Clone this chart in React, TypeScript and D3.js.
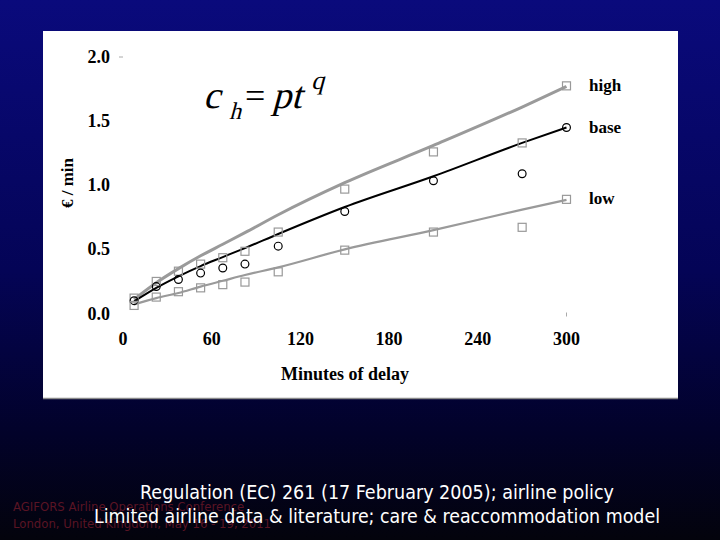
import React from "react";
import * as d3 from "d3";

// ---- data ----
const minutes = [7.5, 22.5, 37.5, 52.5, 67.5, 82.5, 105, 150, 210, 270, 300];
const highObs = [0.12, 0.25, 0.33, 0.385, 0.435, 0.485, 0.635, 0.97, 1.26, 1.33, 1.775];
const baseObs = [0.10, 0.21, 0.265, 0.315, 0.355, 0.385, 0.525, 0.795, 1.035, 1.09, 1.45];
const lowObs = [0.063, 0.128, 0.17, 0.2, 0.225, 0.245, 0.325, 0.494, 0.635, 0.672, 0.89];
const highFit = [0.11, 0.24, 0.35, 0.45, 0.54, 0.63, 0.77, 1.02, 1.31, 1.61, 1.77];
const baseFit = [0.095, 0.2, 0.29, 0.37, 0.44, 0.51, 0.62, 0.83, 1.07, 1.33, 1.45];
const lowFit = [0.07, 0.12, 0.16, 0.21, 0.255, 0.3, 0.36, 0.5, 0.65, 0.81, 0.886];
const seriesNames = ["high", "base", "low"];
const xTicks = [0, 60, 120, 180, 240, 300];
const yTicks = [0, 0.5, 1.0, 1.5, 2.0];
const xTitle = "Minutes of delay";
const yTitle = "€ / min";
const footer1 = "Regulation (EC) 261 (17 February 2005); airline policy";
const footer2 = "Limited airline data & literature; care & reaccommodation model";
const conf1 = "AGIFORS Airline Operations Conference";
const conf2 = "London, United Kingdom, May 16 - 19, 2011";

export default function App() {
  const x = d3.scaleLinear().domain([0, 300]).range([123, 566.5]);
  const y = d3.scaleLinear().domain([0, 2]).range([313.5, 57]);
  const line = d3
    .line<[number, number]>()
    .x((d) => x(d[0]))
    .y((d) => y(d[1]))
    .curve(d3.curveMonotoneX);

  const fits = [highFit, baseFit, lowFit];
  const obs = [highObs, baseObs, lowObs];
  const lineStyle = [
    { stroke: "#9a9a9a", width: 3 },
    { stroke: "#000", width: 2 },
    { stroke: "#9a9a9a", width: 2.2 },
  ];
  const serif = "'Liberation Serif', 'Times New Roman', serif";
  const sans = "Tahoma, 'DejaVu Sans Condensed', 'Liberation Sans', sans-serif";

  return (
    <svg
      width={720}
      height={540}
      style={{ position: "absolute", left: 0, top: 0, display: "block" }}
    >
      <defs>
        <linearGradient id="bg" x1="0" y1="0" x2="0" y2="1">
          <stop offset="0" stopColor="#0a0a7c" />
          <stop offset="0.5" stopColor="#040456" />
          <stop offset="0.8" stopColor="#02022a" />
          <stop offset="1" stopColor="#03030c" />
        </linearGradient>
      </defs>
      <rect x={0} y={0} width={720} height={540} fill="url(#bg)" />
      <rect x={43} y={31} width={635} height={367} fill="#fff" />
      <line x1={43} x2={678} y1={398.5} y2={398.5} stroke="#8a8a8a" strokeWidth={1.5} />

      {/* stray axis marks */}
      <line x1={119} x2={123} y1={y(2)} y2={y(2)} stroke="#aaa" strokeWidth={1} />
      <line x1={x(300)} x2={x(300)} y1={y(0) - 1} y2={y(0) + 3} stroke="#aaa" strokeWidth={1} />

      {/* y tick labels */}
      {yTicks.map((v) => (
        <text
          key={v}
          x={110}
          y={y(v) + 6}
          textAnchor="end"
          fontFamily={serif}
          fontWeight="bold"
          fontSize={18}
          fill="#000"
        >
          {v.toFixed(1)}
        </text>
      ))}
      {/* x tick labels */}
      {xTicks.map((v) => (
        <text
          key={v}
          x={x(v)}
          y={345}
          textAnchor="middle"
          fontFamily={serif}
          fontWeight="bold"
          fontSize={18}
          fill="#000"
        >
          {v}
        </text>
      ))}
      <text
        x={345}
        y={380}
        textAnchor="middle"
        fontFamily={serif}
        fontWeight="bold"
        fontSize={18}
        fill="#000"
      >
        {xTitle}
      </text>
      <text
        transform={`translate(73,183) rotate(-90)`}
        textAnchor="middle"
        fontFamily={serif}
        fontWeight="bold"
        fontSize={17}
        fill="#000"
      >
        {yTitle}
      </text>

      {/* formula (serif, slanted) */}
      <g fontFamily={serif} fill="#000">
        <g transform="translate(203,108) skewX(-15)">
          <text x={0} y={0} fontSize={38}>c</text>
        </g>
        <g transform="translate(229,119) skewX(-15)">
          <text x={0} y={0} fontSize={24}>h</text>
        </g>
        <text x={245} y={108} fontSize={36}>=</text>
        <g transform="translate(272,108) skewX(-15)">
          <text x={0} y={0} fontSize={38}>pt</text>
        </g>
        <g transform="translate(311,89) skewX(-15)">
          <text x={0} y={0} fontSize={26}>q</text>
        </g>
      </g>

      {/* fitted lines */}
      {fits.map((f, i) => (
        <path
          key={i}
          d={line(minutes.map((t, j) => [t, f[j]]) as [number, number][]) || ""}
          fill="none"
          stroke={lineStyle[i].stroke}
          strokeWidth={lineStyle[i].width}
        />
      ))}

      {/* observed markers */}
      {obs.map((o, i) =>
        o.map((v, j) =>
          i === 1 ? (
            <circle
              key={`${i}-${j}`}
              cx={x(minutes[j])}
              cy={y(v)}
              r={3.9}
              fill="none"
              stroke="#000"
              strokeWidth={1.2}
            />
          ) : (
            <rect
              key={`${i}-${j}`}
              x={x(minutes[j]) - 4}
              y={y(v) - 4}
              width={8}
              height={8}
              fill="none"
              stroke="#999"
              strokeWidth={1.2}
            />
          )
        )
      )}

      {/* series labels */}
      {seriesNames.map((n, i) => (
        <text
          key={n}
          x={589}
          y={y(obs[i][obs[i].length - 1]) + 5}
          fontFamily={serif}
          fontWeight="bold"
          fontSize={17}
          fill="#000"
        >
          {n}
        </text>
      ))}

      {/* conference footer */}
      <text x={13} y={511} fontFamily={sans} fontSize={13} fill="#5a1424">
        {conf1}
      </text>
      <text x={13} y={528} fontFamily={sans} fontSize={13} fill="#5a1424">
        {conf2}
      </text>

      {/* white captions */}
      <text
        x={377}
        y={499}
        textAnchor="middle"
        fontFamily={sans}
        fontSize={20}
        fill="#fff"
        textLength={474}
        lengthAdjust="spacingAndGlyphs"
      >
        {footer1}
      </text>
      <text
        x={377}
        y={523}
        textAnchor="middle"
        fontFamily={sans}
        fontSize={20}
        fill="#fff"
        textLength={566}
        lengthAdjust="spacingAndGlyphs"
      >
        {footer2}
      </text>
    </svg>
  );
}
